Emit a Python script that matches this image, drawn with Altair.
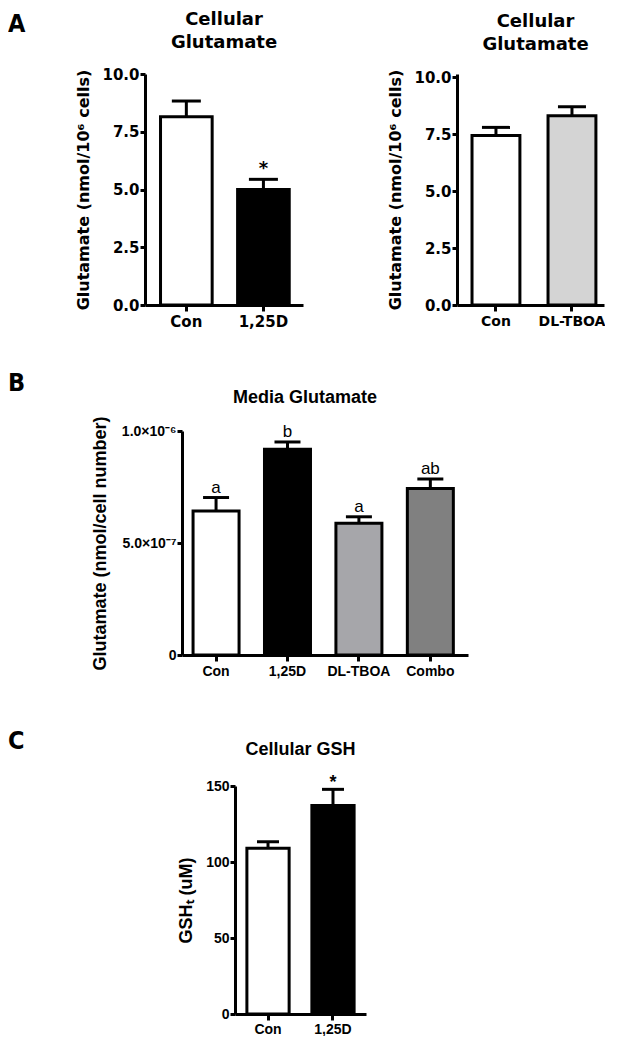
import altair as alt
import pandas as pd

# ---------------- data ----------------
A1_GROUPS = ["Con", "1,25D"]
A1_MEANS = [8.15, 5.00]
A1_UPPER = [8.83, 5.44]
A1_COLORS = ["#ffffff", "#000000"]
A1_MARKS = ["", "*"]
A1_TICKS = [0, 2.5, 5.0, 7.5, 10.0]

A2_GROUPS = ["Con", "DL-TBOA"]
A2_MEANS = [7.43, 8.30]
A2_UPPER = [7.79, 8.70]
A2_COLORS = ["#ffffff", "#d4d4d4"]
A2_MARKS = ["", ""]
A2_TICKS = [0, 2.5, 5.0, 7.5, 10.0]

B_GROUPS = ["Con", "1,25D", "DL-TBOA", "Combo"]
B_MEANS = [6.43e-7, 9.18e-7, 5.88e-7, 7.43e-7]
B_UPPER = [7.03e-7, 9.51e-7, 6.17e-7, 7.86e-7]
B_COLORS = ["#ffffff", "#000000", "#a6a6aa", "#808080"]
B_LETTERS = ["a", "b", "a", "ab"]
B_TICKS = [0, 5e-7, 1e-6]
B_TICK_LABELS = ["0", "5.0×10⁻⁷", "1.0×10⁻⁶"]

C_GROUPS = ["Con", "1,25D"]
C_MEANS = [109.1, 137.2]
C_UPPER = [113.4, 147.8]
C_COLORS = ["#ffffff", "#000000"]
C_MARKS = ["", "*"]
C_TICKS = [0, 50, 100, 150]

FONT_A = "DejaVu Sans"
FONT_BC = "Liberation Sans"
LETTER_FONT = "DejaVu Sans Condensed, DejaVu Sans"


def panel(groups, means, upper, colors, marks, *, width, height, ymax, yticks,
          ytitle, title_lines, font, label_size, ylabel_size, title_size,
          axis_title_size, title_offset, title_dx, title_dy, pad_inner, pad_outer,
          align, cap, mark_size, mark_weight, mark_dy, yformat=None,
          ylabel_expr=None, xlabel_pad=3, ytitle_pad=10):
    df = pd.DataFrame({"group": groups, "mean": means, "upper": upper,
                       "mark": marks, "color": colors})
    xscale = alt.Scale(paddingInner=pad_inner, paddingOuter=pad_outer, align=align)
    xaxis = alt.Axis(labelAngle=0, labelFont=font, labelFontSize=label_size,
                     labelFontWeight="bold", labelColor="black", labelPadding=xlabel_pad,
                     tickSize=6, tickWidth=3, tickColor="black", domainColor="black",
                     domainWidth=3, title=None, grid=False)
    yaxis_kw = dict(values=yticks, labelFont=font, labelFontSize=ylabel_size,
                    labelFontWeight="bold", labelColor="black", labelPadding=1,
                    tickSize=5, tickWidth=3, tickColor="black", domainColor="black",
                    domainWidth=3, grid=False, title=ytitle, titleFont=font,
                    titleFontSize=axis_title_size, titleFontWeight="bold",
                    titleColor="black", titlePadding=ytitle_pad)
    if yformat:
        yaxis_kw["format"] = yformat
    if ylabel_expr:
        yaxis_kw["labelExpr"] = ylabel_expr
    yaxis = alt.Axis(**yaxis_kw)
    yscale = alt.Scale(domain=[0, ymax], nice=False)

    x = alt.X("group:N", sort=groups, scale=xscale, axis=xaxis)
    base = alt.Chart(df)
    bars = base.mark_bar(stroke="black", strokeWidth=3).encode(
        x=x,
        y=alt.Y("mean:Q", scale=yscale, axis=yaxis),
        fill=alt.Fill("color:N", scale=None),
    )
    rule = base.mark_rule(color="black", strokeWidth=3).encode(
        x=x, y=alt.Y("mean:Q", scale=yscale, axis=yaxis), y2="upper:Q")
    tick = base.mark_tick(color="black", thickness=3, size=cap, opacity=1).encode(
        x=x, y=alt.Y("upper:Q", scale=yscale, axis=yaxis))
    txt = base.mark_text(font=font, fontSize=mark_size, fontWeight=mark_weight,
                         baseline="alphabetic", dy=mark_dy, color="black").encode(
        x=x, y=alt.Y("upper:Q", scale=yscale, axis=yaxis), text="mark:N")
    return alt.layer(bars, rule, tick, txt).properties(
        width=width, height=height,
        title=alt.TitleParams(text=title_lines, font=font, fontSize=title_size,
                              fontWeight="bold", color="black", anchor="middle",
                              offset=title_offset, dx=title_dx, dy=title_dy,
                              lineHeight=23, baseline="alphabetic"))


def spacer(w, h, letter=None, offset=0):
    ch = alt.Chart(pd.DataFrame({"v": [0]})).mark_point(opacity=0, size=1)
    props = dict(width=w, height=h)
    if letter:
        props["title"] = alt.TitleParams(text=letter, font=LETTER_FONT, fontSize=25,
                                         fontWeight="bold", color="black",
                                         anchor="start", offset=offset,
                                         baseline="alphabetic")
    return ch.properties(**props)


A_ROW_H = 231
A_RIGHT_H = 228  # the right panel's 0-10 span is a little shorter

a_left = panel(A1_GROUPS, A1_MEANS, A1_UPPER, A1_COLORS, A1_MARKS,
               width=158, height=A_ROW_H, ymax=10, yticks=A1_TICKS,
               ytitle="Glutamate (nmol/10⁶ cells)", title_lines=["Cellular", "Glutamate"],
               font=FONT_A, label_size=15, ylabel_size=15, title_size=18,
               axis_title_size=16, title_offset=1, title_dx=0, title_dy=0,
               pad_inner=0.33, pad_outer=0.19, align=0.53, cap=29,
               mark_size=18, mark_weight="bold", mark_dy=-5, yformat=".1f")

a_right = panel(A2_GROUPS, A2_MEANS, A2_UPPER, A2_COLORS, A2_MARKS,
                width=147, height=A_ROW_H, ymax=10 * A_ROW_H / A_RIGHT_H, yticks=A2_TICKS,
                ytitle="Glutamate (nmol/10⁶ cells)", title_lines=["Cellular", "Glutamate"],
                font=FONT_A, label_size=14, ylabel_size=15, title_size=18,
                axis_title_size=16, title_offset=1, title_dx=5, title_dy=0,
                pad_inner=0.37, pad_outer=0.152, align=0.65, cap=28,
                mark_size=18, mark_weight="bold", mark_dy=-5, yformat=".1f")

b_expr = " : ".join(
    [f"datum.value < {v * 0.5 + B_TICKS[i + 1] * 0.5} ? '{lab}'"
     for i, (v, lab) in enumerate(zip(B_TICKS[:-1], B_TICK_LABELS[:-1]))]
) + f" : '{B_TICK_LABELS[-1]}'"

b_panel = panel(B_GROUPS, B_MEANS, B_UPPER, B_COLORS, B_LETTERS,
                width=286, height=224, ymax=1e-6, yticks=B_TICKS,
                ytitle="Glutamate (nmol/cell number)", title_lines=["Media  Glutamate"],
                font=FONT_BC, label_size=14, ylabel_size=14, title_size=18,
                axis_title_size=18, title_offset=0, title_dx=-20, title_dy=5,
                pad_inner=0.356, pad_outer=0.18, align=0.43, cap=26,
                mark_size=17, mark_weight="normal", mark_dy=-5, ylabel_expr=b_expr,
                ytitle_pad=12)

c_panel = panel(C_GROUPS, C_MEANS, C_UPPER, C_COLORS, C_MARKS,
                width=131, height=228, ymax=150, yticks=C_TICKS,
                ytitle="GSHₜ (uM)", title_lines=["Cellular GSH"],
                font=FONT_BC, label_size=14, ylabel_size=14, title_size=18,
                axis_title_size=18, title_offset=0, title_dx=0, title_dy=-1,
                pad_inner=0.35, pad_outer=0.183, align=0.5, cap=22,
                mark_size=18, mark_weight="bold", mark_dy=-1, yformat="d",
                xlabel_pad=2)

row1 = alt.hconcat(spacer(137, 1, "A", offset=17), a_left, spacer(154, 1), a_right,
                   spacing=0, bounds="flush")
row2 = alt.hconcat(spacer(174, 1, "B", offset=15), b_panel, spacing=0, bounds="flush")
row3 = alt.hconcat(spacer(227, 1, "C", offset=12), c_panel, spacing=0, bounds="flush")

chart = alt.vconcat(
    spacer(1, 3),
    row1,
    spacer(1, 42),
    row2,
    spacer(1, 51),
    row3,
    spacing=0,
).properties(padding=0).configure_view(stroke=None)

chart.save("out.html", embed_options={"renderer": "svg", "actions": False})
